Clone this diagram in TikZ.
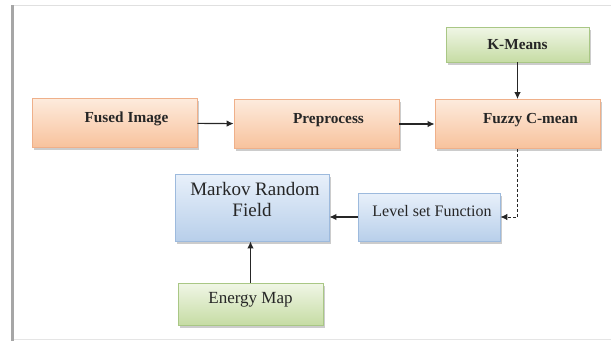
\documentclass[tikz,border=0pt]{standalone}
\usepackage{fontspec}
\setmainfont{Liberation Serif}
\usetikzlibrary{arrows.meta,shadows}

\definecolor{orTop}{HTML}{FDEBDD}
\definecolor{orBot}{HTML}{F8C29C}
\definecolor{orLine}{HTML}{EFB08A}
\definecolor{grTop}{HTML}{F0F6E6}
\definecolor{grBot}{HTML}{C6DCA4}
\definecolor{grLine}{HTML}{A9C785}
\definecolor{blTop}{HTML}{E8F0FA}
\definecolor{blBot}{HTML}{B8CFEA}
\definecolor{blLine}{HTML}{9DBADD}

\begin{document}
\begin{tikzpicture}[x=1pt,y=-1pt,
	box/.style={rectangle,inner sep=0pt,line width=0.8pt,text=black!85,
		drop shadow={shadow xshift=2pt,shadow yshift=-2.5pt,opacity=0.4}},
	orangebox/.style={box,draw=orLine,top color=orTop,bottom color=orBot,
		minimum width=165pt,minimum height=49pt,
		font=\fontsize{15.3}{18}\selectfont\bfseries,text height=10pt,text depth=12pt},
	greenbox/.style={box,draw=grLine,top color=grTop,bottom color=grBot},
	bluebox/.style={box,draw=blLine,top color=blTop,bottom color=blBot},
	flow/.style={line width=1.1pt,black!85,-{Latex[length=7pt,width=6.5pt]}},
	feedback/.style={flow,densely dashed,line width=0.9pt}]
	\useasboundingbox (0,0) rectangle (611,341);

	% frame
	\draw[black!12,line width=1pt]	(12,5.5) -- (611,5.5);
	\draw[black!10,line width=1pt]	(12,339) -- (611,339);
	\draw[black!35,line width=3pt]	(12.5,5) -- (12.5,341);

	\node[orangebox] at (114.5,123) (fused) {\hspace*{24pt}Fused Image};
	\node[orangebox] at (316.5,124) (prep) {\hspace*{24pt}Preprocess};
	\node[orangebox] at (517.5,124) (fuzzy) {\hspace*{26pt}Fuzzy C-mean};
	\node[greenbox,minimum width=143pt,minimum height=35pt,
		font=\fontsize{15.3}{18}\selectfont\bfseries] at (517.5,44.5) (kmeans) {K-Means};
	\node[bluebox,minimum width=154pt,minimum height=67pt,align=center,
		font=\fontsize{19}{21}\selectfont] at (252,207.5) (mrf) {\hspace*{6pt}Markov Random\\Field\rule[-16pt]{0pt}{16pt}};
	\node[bluebox,minimum width=142pt,minimum height=48pt,
		font=\fontsize{16}{18}\selectfont,text height=11pt,text depth=13pt] at (429,217) (level) {\hspace*{6pt}Level set Function};
	\node[greenbox,minimum width=145pt,minimum height=42pt,
		font=\fontsize{17}{19}\selectfont,text height=11pt,text depth=13pt] at (250.5,304) (energy) {Energy Map};

	\draw[flow]	(fused) -- (prep);
	\draw[flow]	(prep) -- (fuzzy);
	\draw[flow]	(kmeans) -- (fuzzy);
	\draw[feedback]	(fuzzy.south) |- (level.east);
	\draw[flow]	(level.west) -- (level.west -| mrf.east);
	\draw[flow]	(energy.north) -- (energy.north |- mrf.south);
\end{tikzpicture}
\end{document}
